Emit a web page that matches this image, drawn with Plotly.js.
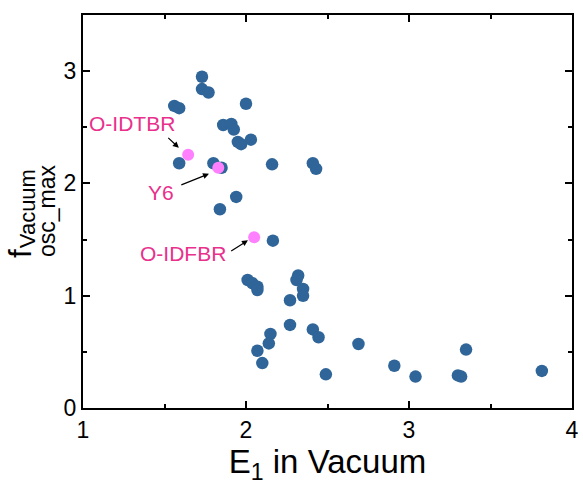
<!DOCTYPE html>
<html>
<head>
<meta charset="utf-8">
<script src="https://cdn.plot.ly/plotly-3.0.1.min.js"></script>
<style>html,body{margin:0;padding:0;background:#fff;}#chart{width:583px;height:486px;}</style>
</head>
<body>
<div id="chart"></div>
<script>
// Blue data points (E1 in vacuum, f_osc_max in vacuum)
const blueE1 = [1.73,1.73,1.77,1.56,1.59,2.00,1.86,1.91,1.925,1.95,1.97,2.03,1.59,1.80,1.85,2.16,2.41,2.43,1.94,1.84,2.165,2.01,2.04,2.07,2.07,2.32,2.31,2.35,2.35,2.27,2.27,2.41,2.445,2.15,2.14,2.07,2.10,2.49,2.69,2.91,3.04,3.30,3.32,3.35,3.815];
const blueF  = [2.95,2.84,2.81,2.69,2.67,2.71,2.52,2.53,2.48,2.37,2.35,2.39,2.18,2.18,2.14,2.17,2.18,2.13,1.88,1.77,1.49,1.14,1.11,1.08,1.05,1.18,1.14,1.06,1.00,0.96,0.74,0.70,0.63,0.66,0.575,0.51,0.40,0.30,0.57,0.376,0.28,0.29,0.28,0.52,0.33];
// Highlighted molecules
const pinkNames = ["O-IDTBR","Y6","O-IDFBR"];
const pinkE1 = [1.645,1.83,2.05];
const pinkF  = [2.255,2.14,1.52];
// Label positions and arrow tails/heads (data coordinates)
const labelX = [1.30,1.48,1.615];
const labelY = [2.53,1.92,1.375];
const arrowTailX = [1.514,1.594,1.90];
const arrowTailY = [2.418,1.982,1.389];
const arrowHeadX = [1.588,1.773,2.012];
const arrowHeadY = [2.317,2.086,1.493];
const xTicks = [1,2,3,4];
const yTicks = [0,1,2,3];

const FONT = "Liberation Sans, Arial, sans-serif";
const traces = [
  {x: blueE1, y: blueF, mode: "markers", type: "scatter",
   marker: {color: "#2f6598", size: 12.5, line: {width: 0}}, hoverinfo: "skip"},
  {x: pinkE1, y: pinkF, mode: "markers", type: "scatter",
   marker: {color: "#ff80ff", size: 12, line: {width: 0}}, hoverinfo: "skip"}
];

const annotations = [];
for (let i = 0; i < pinkNames.length; i++) {
  annotations.push({x: labelX[i], y: labelY[i], xref: "x", yref: "y", text: pinkNames[i],
    showarrow: false, xanchor: "center", yanchor: "middle",
    font: {family: FONT, size: 21, color: "#e8308c"}});
  annotations.push({x: arrowHeadX[i], y: arrowHeadY[i], xref: "x", yref: "y",
    ax: arrowTailX[i], ay: arrowTailY[i], axref: "x", ayref: "y", text: "",
    showarrow: true, arrowhead: 2, arrowsize: 1, arrowwidth: 1.2, arrowcolor: "#000"});
}
// Y-axis title with stacked super/subscript
annotations.push({xref: "paper", yref: "paper", x: 0, y: 0.392, xshift: -62, text: "f",
  textangle: -90, showarrow: false, xanchor: "center", yanchor: "middle",
  font: {family: FONT, size: 31, color: "#000"}});
annotations.push({xref: "paper", yref: "paper", x: 0, y: 0.506, xshift: -56, text: "Vacuum",
  textangle: -90, showarrow: false, xanchor: "center", yanchor: "middle",
  font: {family: FONT, size: 22, color: "#000"}});
annotations.push({xref: "paper", yref: "paper", x: 0, y: 0.501, xshift: -36, text: "osc_max",
  textangle: -90, showarrow: false, xanchor: "center", yanchor: "middle",
  font: {family: FONT, size: 23, color: "#000"}});

const axisCommon = {
  showgrid: false, zeroline: false, showline: true, linecolor: "#000", linewidth: 2,
  mirror: "ticks", ticks: "inside", ticklen: 7, tickwidth: 2, tickcolor: "#000",
  tickfont: {family: FONT, size: 23, color: "#000"}
};
const layout = {
  width: 583, height: 486,
  margin: {l: 83, r: 11, t: 15, b: 78},
  paper_bgcolor: "#fff", plot_bgcolor: "#fff",
  showlegend: false,
  xaxis: Object.assign({}, axisCommon, {
    range: [1, 4], tickvals: xTicks, ticktext: xTicks.map(String),
    minor: {ticks: "inside", ticklen: 4, tickwidth: 2, tickcolor: "#000", dtick: 0.5, showgrid: false},
    title: {text: "E<sub>1</sub> in Vacuum", font: {family: FONT, size: 33, color: "#000"}, standoff: 8}
  }),
  yaxis: Object.assign({}, axisCommon, {
    range: [0, 3.5], tickvals: yTicks, ticktext: yTicks.map(String),
    minor: {ticks: "inside", ticklen: 4, tickwidth: 2, tickcolor: "#000", dtick: 0.5, showgrid: false},
    title: {text: ""}
  }),
  annotations: annotations
};
Plotly.newPlot("chart", traces, layout, {staticPlot: true, displayModeBar: false});
</script>
</body>
</html>
